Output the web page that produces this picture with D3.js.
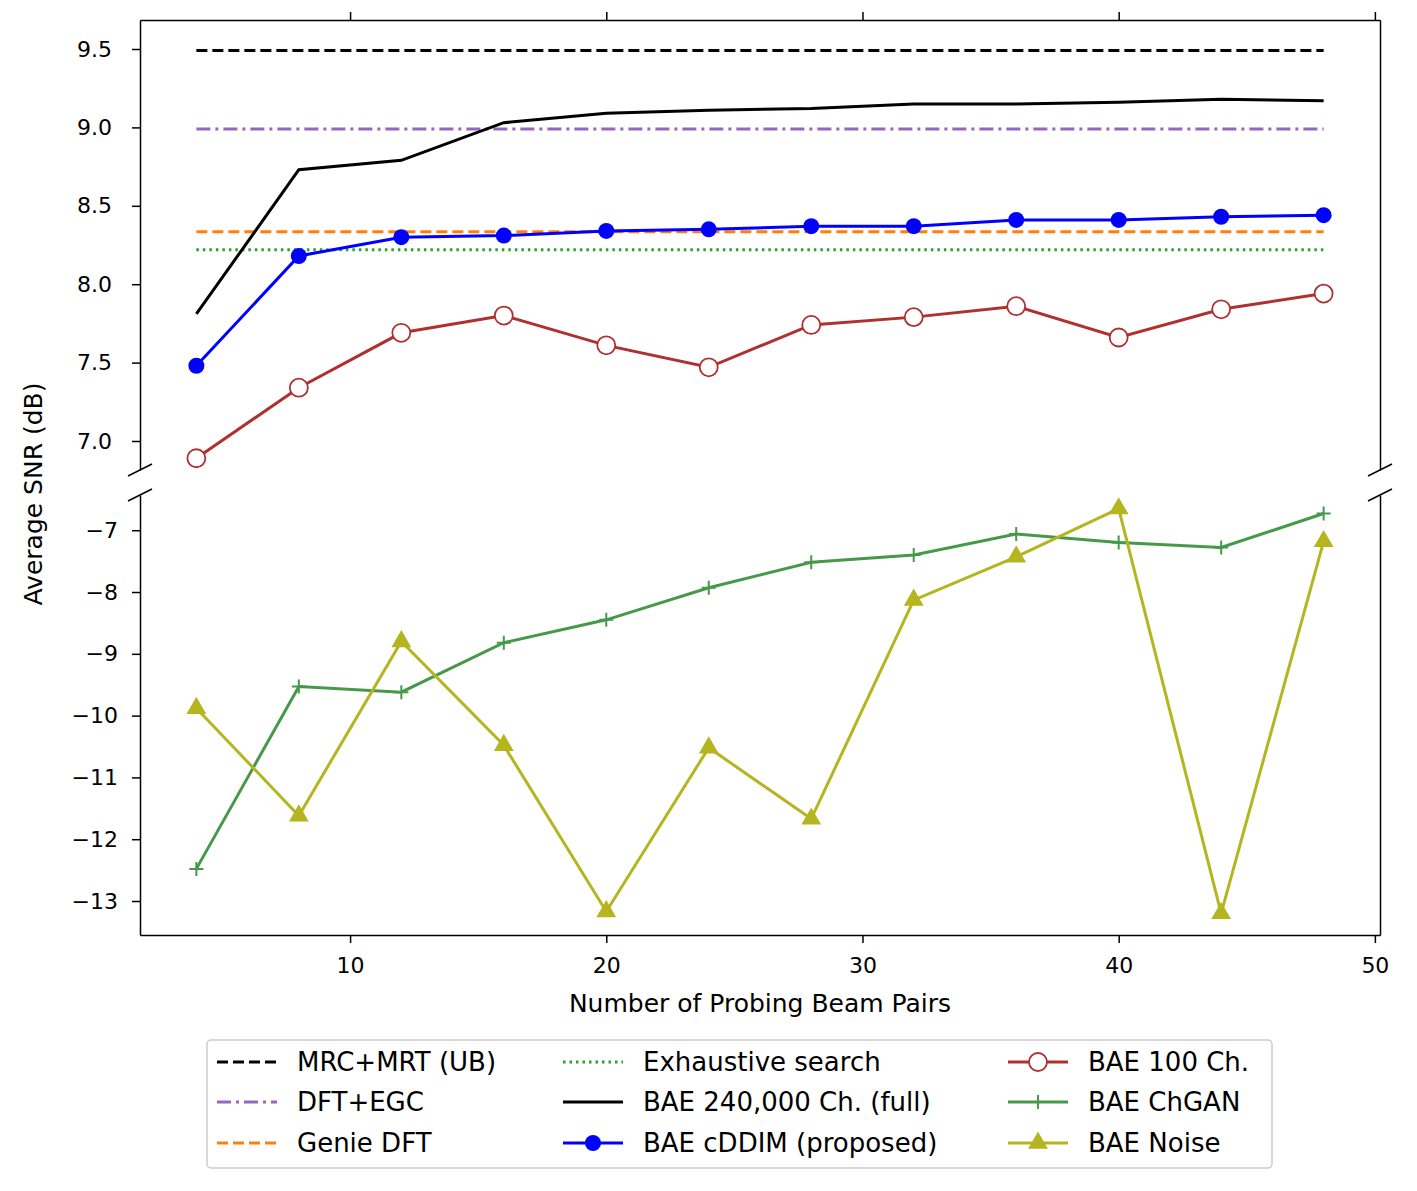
<!DOCTYPE html>
<html><head><meta charset="utf-8">
<script src="https://cdn.jsdelivr.net/npm/d3@7"></script>
<style>body{margin:0;background:#fff}text{font-family:"DejaVu Sans",sans-serif}</style>
</head><body><svg id="chart" width="1417" height="1191"></svg>
<script>
"use strict";
const probes = [4, 8, 12, 16, 20, 24, 28, 32, 36, 40, 44, 48];
const mrcMrt = 9.49, dftEgc = 8.99, genieDft = 8.335, exhaustive = 8.22;
const bae240k = [7.81, 8.73, 8.79, 9.03, 9.09, 9.11, 9.12, 9.15, 9.15, 9.16, 9.18, 9.17];
const cddim = [7.48, 8.18, 8.30, 8.31, 8.34, 8.35, 8.37, 8.37, 8.41, 8.41, 8.43, 8.44];
const bae100 = [6.89, 7.34, 7.69, 7.80, 7.61, 7.47, 7.74, 7.79, 7.86, 7.66, 7.84, 7.94];
const chgan = [-12.48, -9.53, -9.62, -8.82, -8.45, -7.93, -7.52, -7.40, -7.06, -7.20, -7.28, -6.73];
const noise = [-9.88, -11.62, -8.80, -10.48, -13.17, -10.52, -11.67, -8.13, -7.43, -6.65, -13.2, -7.18];
const topTicks = [7.0, 7.5, 8.0, 8.5, 9.0, 9.5];
const botTicks = [-13, -12, -11, -10, -9, -8, -7];
const xTicks = [10, 20, 30, 40, 50];

const svg = d3.select("#chart");
const L = 140, R = 1380;
const x = d3.scaleLinear().domain([1.8, 50.2]).range([L, R]);
const yTop = d3.scaleLinear().domain([6.815, 9.685]).range([470, 20]);
const yBot = d3.scaleLinear().domain([-13.55, -6.43]).range([935, 495]);
const fs = 22, lfs = 25, legfs = 26;

// top panel axes
const gTop = svg.append("g");
gTop.append("g").attr("transform", `translate(${L},0)`)
    .call(d3.axisLeft(yTop).tickValues(topTicks).tickFormat(d3.format(".1f")).tickSize(8).tickPadding(20).tickSizeOuter(0));
gTop.append("g").attr("transform", `translate(${R},0)`)
    .call(d3.axisRight(yTop).tickValues([]).tickSizeOuter(0));
gTop.append("g").attr("transform", "translate(0,20)")
    .call(d3.axisTop(x).tickValues(xTicks).tickFormat("").tickSize(8).tickSizeOuter(0));
// bottom panel axes
const gBot = svg.append("g");
gBot.append("g").attr("transform", `translate(${L},0)`)
    .call(d3.axisLeft(yBot).tickValues(botTicks).tickFormat(d => d3.format("d")(d).replace("-", "\u2212"))
        .tickSize(8).tickPadding(14).tickSizeOuter(0));
gBot.append("g").attr("transform", `translate(${R},0)`)
    .call(d3.axisRight(yBot).tickValues([]).tickSizeOuter(0));
gBot.append("g").attr("transform", "translate(0,935)")
    .call(d3.axisBottom(x).tickValues(xTicks).tickSize(8).tickPadding(14).tickSizeOuter(0));
svg.selectAll(".tick text").attr("font-size", fs).style("font-family", "DejaVu Sans");
svg.selectAll(".tick line").attr("stroke-width", 1.5);
svg.selectAll(".domain").attr("stroke-width", 1.5);

// break marks
[L, R].forEach(px => {
    [470, 495].forEach(py => {
        svg.append("line").attr("x1", px - 12).attr("y1", py + 6).attr("x2", px + 12).attr("y2", py - 6)
            .attr("stroke", "black").attr("stroke-width", 1.5);
    });
});

svg.append("text").attr("x", 760).attr("y", 1012).attr("text-anchor", "middle")
    .attr("font-size", lfs).text("Number of Probing Beam Pairs");
svg.append("text").attr("transform", "translate(42,494) rotate(-90)").attr("text-anchor", "middle")
    .attr("font-size", lfs).text("Average SNR (dB)");

const series = [
    {name: "MRC+MRT (UB)", vals: probes.map(() => mrcMrt), y: yTop, color: "black", dash: "11,5", marker: null},
    {name: "DFT+EGC", vals: probes.map(() => dftEgc), y: yTop, color: "#9467bd", dash: "14,5,3,5", marker: null},
    {name: "Genie DFT", vals: probes.map(() => genieDft), y: yTop, color: "#ff7f0e", dash: "11,5", marker: null},
    {name: "Exhaustive search", vals: probes.map(() => exhaustive), y: yTop, color: "#2ca02c", dash: "2.5,4", marker: null},
    {name: "BAE 240,000 Ch. (full)", vals: bae240k, y: yTop, color: "black", dash: null, marker: null},
    {name: "BAE cDDIM (proposed)", vals: cddim, y: yTop, color: "blue", dash: null, marker: "dot"},
    {name: "BAE 100 Ch.", vals: bae100, y: yTop, color: "#b03030", dash: null, marker: "ring"},
    {name: "BAE ChGAN", vals: chgan, y: yBot, color: "#47994a", dash: null, marker: "plus"},
    {name: "BAE Noise", vals: noise, y: yBot, color: "#b5b520", dash: null, marker: "tri"}
];

function drawMarker(g, kind, color, cx, cy) {
    if (kind === "dot") g.append("circle").attr("cx", cx).attr("cy", cy).attr("r", 8).attr("fill", color);
    else if (kind === "ring") g.append("circle").attr("cx", cx).attr("cy", cy).attr("r", 9)
        .attr("fill", "white").attr("stroke", color).attr("stroke-width", 1.8);
    else if (kind === "plus") g.append("path").attr("d", `M${cx - 7},${cy}H${cx + 7}M${cx},${cy - 7}V${cy + 7}`)
        .attr("stroke", color).attr("stroke-width", 2);
    else if (kind === "tri") g.append("path").attr("d", d3.symbol(d3.symbolTriangle, 170)())
        .attr("transform", `translate(${cx},${cy})`).attr("fill", color);
}

const line = yS => d3.line().x((d, i) => x(probes[i])).y(d => yS(d));
series.forEach(s => {
    const g = svg.append("g");
    g.append("path").datum(s.vals).attr("d", line(s.y)).attr("fill", "none")
        .attr("stroke", s.color).attr("stroke-width", 3).attr("stroke-dasharray", s.dash);
    if (s.marker) s.vals.forEach((v, i) => drawMarker(g, s.marker, s.color, x(probes[i]), s.y(v)));
});

// legend
const lg = svg.append("g");
lg.append("rect").attr("x", 207).attr("y", 1040).attr("width", 1065).attr("height", 128).attr("rx", 4)
    .attr("fill", "white").attr("stroke", "#ccc").attr("stroke-width", 1.5);
const colX = [217, 563, 1008];
const rowY = [1062, 1102, 1143];
series.forEach((s, i) => {
    const cx = colX[Math.floor(i / 3)], cy = rowY[i % 3];
    lg.append("line").attr("x1", cx).attr("x2", cx + 60).attr("y1", cy).attr("y2", cy)
        .attr("stroke", s.color).attr("stroke-width", 3).attr("stroke-dasharray", s.dash);
    if (s.marker) drawMarker(lg, s.marker, s.color, cx + 30, cy);
    lg.append("text").attr("x", cx + 80).attr("y", cy + 9).attr("font-size", legfs).text(s.name);
});
</script></body></html>
